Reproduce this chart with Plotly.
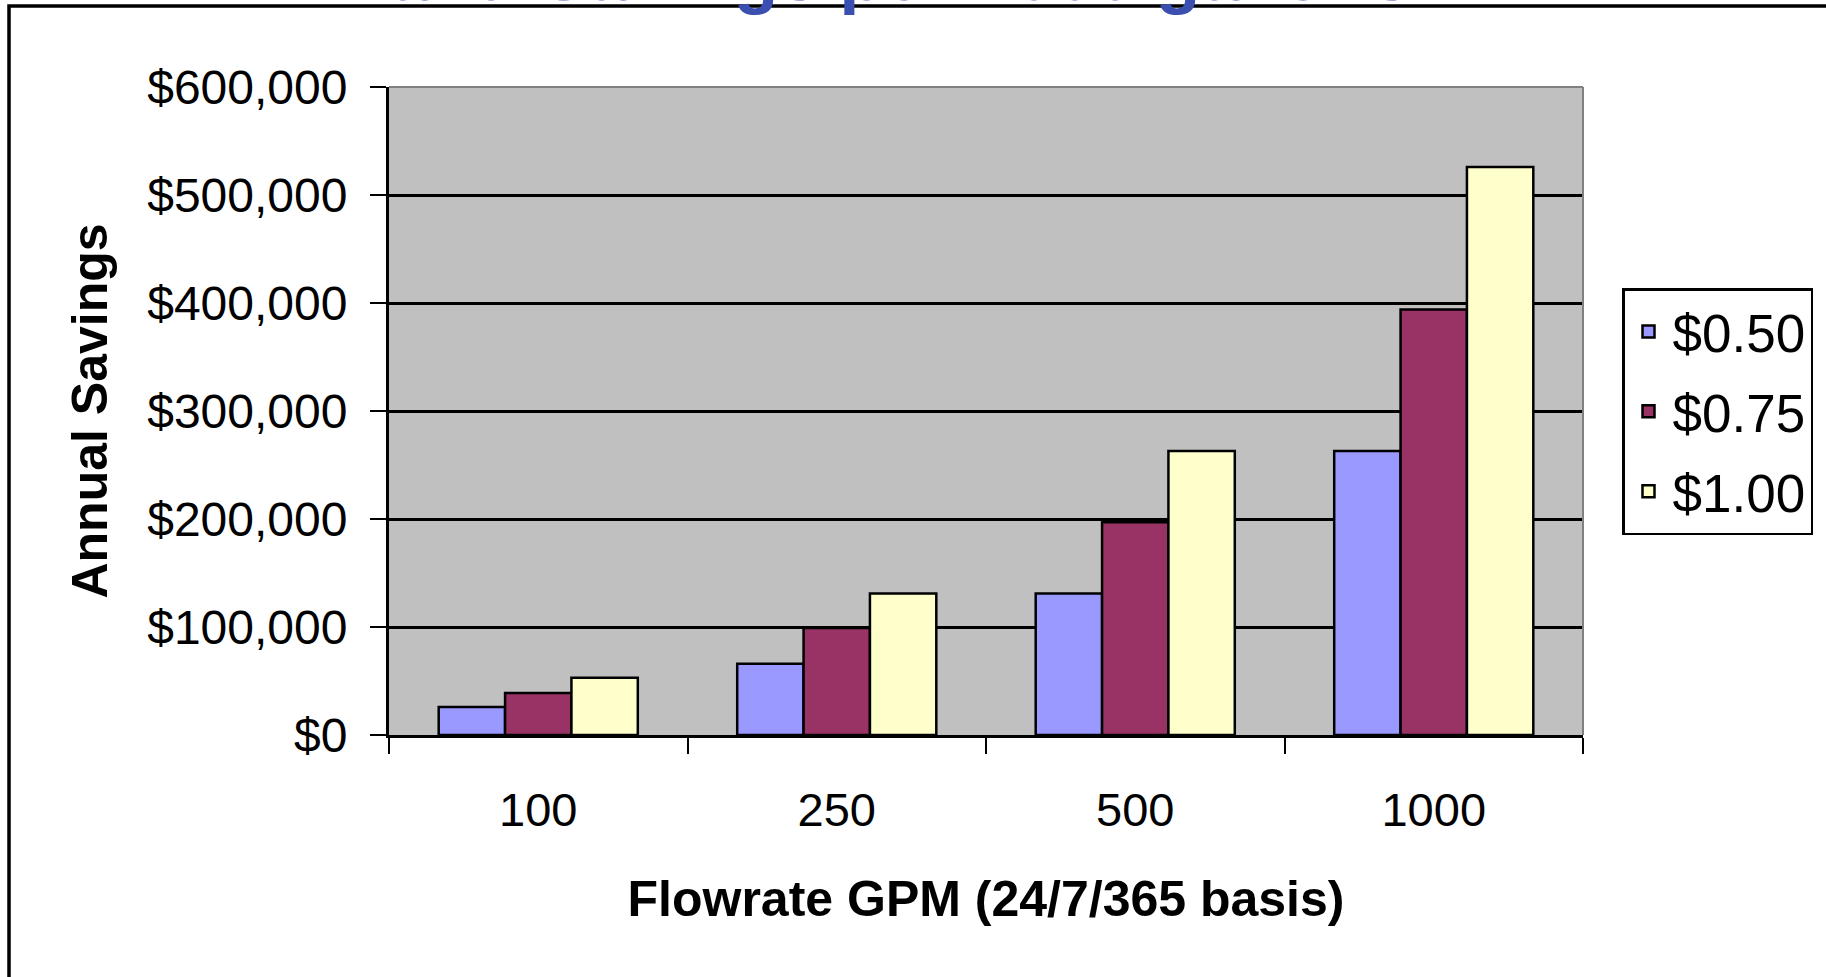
import plotly.graph_objects as go

# ---- data ----
flowrates = ["100", "250", "500", "1000"]
series_names = ["$0.50", "$0.75", "$1.00"]
savings_050 = [26000, 66000, 131000, 263000]
savings_075 = [39000, 99000, 197000, 394000]
savings_100 = [53000, 131000, 263000, 526000]
y_ticks = [0, 100000, 200000, 300000, 400000, 500000, 600000]

series_values = [savings_050, savings_075, savings_100]
colors = ["#9999FF", "#993366", "#FFFFCC"]

W, H = 1826, 977
L, R, T, B = 389, 1826 - 1583, 87, 977 - 735
PW, PH = W - L - R, H - T - B

def px_x(X):
    return (X - L) / PW

def px_y(Y):
    return (H - B - Y) / PH

FONT = "Liberation Sans, Arial, sans-serif"

fig = go.Figure()
for name, vals, col in zip(series_names, series_values, colors):
    fig.add_trace(go.Bar(
        x=flowrates, y=vals, name=name, legendgroup=name,
        marker=dict(color=col, line=dict(color="black", width=2.5)),
    ))

fig.update_layout(
    width=W, height=H,
    margin=dict(l=L, r=R, t=T, b=B, autoexpand=False),
    paper_bgcolor="white",
    plot_bgcolor="#C0C0C0",
    barmode="group", bargap=0.333, bargroupgap=0,
    font=dict(family=FONT, color="black", size=47),
    showlegend=True,
    legend=dict(
        x=px_x(1622), y=px_y(288), xanchor="left", yanchor="top",
        bgcolor="white", bordercolor="black", borderwidth=2.5,
        font=dict(family=FONT, size=53, color="black"),
        traceorder="grouped", tracegroupgap=8, itemwidth=38,
    ),
    xaxis=dict(
        type="category", categoryorder="array", categoryarray=flowrates,
        showline=True, linecolor="black", linewidth=3,
        ticks="outside", tickson="boundaries", ticklen=16, tickwidth=2, tickcolor="black",
        tickfont=dict(family=FONT, size=47, color="black"),
        ticklabelstandoff=32,
        showgrid=False, zeroline=False,
        title=dict(text="<b>Flowrate GPM (24/7/365 basis)</b>",
                   font=dict(family=FONT, size=50, color="black"), standoff=46),
    ),
    yaxis=dict(
        range=[0, 600000], tickvals=y_ticks,
        ticktext=["$" + format(v, ",d") for v in y_ticks],
        showline=True, linecolor="black", linewidth=3,
        ticks="outside", ticklen=16, tickwidth=2, tickcolor="black",
        tickfont=dict(family=FONT, size=48, color="black"),
        ticklabelstandoff=13,
        showgrid=True, gridcolor="black", gridwidth=2.5,
        zeroline=False,
        title=dict(text="<b>Annual Savings</b>",
                   font=dict(family=FONT, size=50, color="black"), standoff=24),
    ),
)

# plot-area border (top and right, grey)
fig.add_shape(type="line", xref="paper", yref="paper", x0=0, x1=1, y0=1, y1=1,
              line=dict(color="#808080", width=2), layer="above")
fig.add_shape(type="line", xref="paper", yref="paper", x0=1, x1=1, y0=0, y1=1,
              line=dict(color="#808080", width=2), layer="above")

# outer chart-area border (right/bottom edges fall outside the picture)
fig.add_shape(type="rect", xref="paper", yref="paper",
              x0=px_x(9), x1=px_x(1900), y0=px_y(1050), y1=px_y(6),
              line=dict(color="black", width=3.5), layer="below")

# title, mostly cut off above the picture (as in the reference)
fig.add_annotation(
    text="<b>and Savings per 1000 gallons</b>", xref="paper", yref="paper",
    x=px_x(900), y=px_y(-25), xanchor="center", yanchor="middle",
    showarrow=False, font=dict(family=FONT, size=73, color="#3A4FB0"),
)

fig.write_html("out.html")
